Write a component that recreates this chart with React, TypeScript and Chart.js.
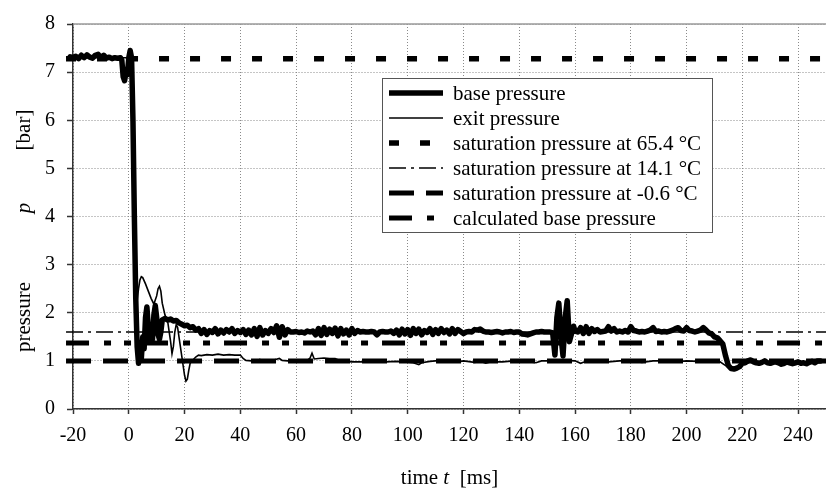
import React, { useEffect, useRef } from "react";
import { Chart, registerables } from "chart.js";
Chart.register(...registerables);

// ---- data ----
const xTickValues = [-20, 0, 20, 40, 60, 80, 100, 120, 140, 160, 180, 200, 220, 240];
const yTickValues = [0, 1, 2, 3, 4, 5, 6, 7, 8];

const basePressure: [number, number][] = [
  [-22.5, 7.30], [-21, 7.32], [-20, 7.30], [-19, 7.33], [-18, 7.28], [-17, 7.35], [-16, 7.30], [-15, 7.36],
  [-14, 7.31], [-13, 7.29], [-12, 7.35], [-11, 7.37], [-10, 7.30], [-9, 7.35], [-8, 7.29], [-7, 7.31],
  [-6, 7.28], [-5, 7.30], [-4, 7.29], [-3, 7.30], [-2.5, 7.25], [-2, 6.9], [-1.5, 6.82], [-1, 7.0],
  [-0.5, 6.95], [0, 7.3], [0.5, 7.45], [1, 7.3], [1.5, 6.0], [2, 4.0], [2.5, 2.3], [3, 1.3], [3.5, 0.95],
  [4, 1.15], [4.5, 1.05], [5, 1.5], [5.5, 1.25], [6, 1.9], [6.5, 2.12], [7, 1.7], [7.5, 1.4], [8, 1.55],
  [8.5, 1.45], [9, 1.95], [9.5, 2.15], [10, 1.9], [10.5, 1.55], [11, 1.45], [11.5, 1.6], [12, 1.85],
  [13, 1.88], [14, 1.85], [15, 1.87], [16, 1.83], [17, 1.84], [18, 1.79], [19, 1.76], [20, 1.73],
  [21, 1.74], [22, 1.69], [23, 1.71], [24, 1.64], [25, 1.67], [26, 1.57], [27, 1.65], [28, 1.55],
  [29, 1.63], [30, 1.59], [31, 1.67], [32, 1.56], [33, 1.64], [34, 1.58], [35, 1.65], [36, 1.60],
  [37, 1.67], [38, 1.57], [39, 1.63], [40, 1.59], [41, 1.65], [42, 1.55], [43, 1.64], [44, 1.54],
  [45, 1.67], [46, 1.51], [47, 1.69], [48, 1.54], [49, 1.63], [50, 1.57], [51, 1.67], [52, 1.59],
  [53, 1.73], [54, 1.49], [55, 1.71], [56, 1.54], [57, 1.65], [58, 1.60], [59, 1.60], [60, 1.61],
  [61, 1.59], [62, 1.60], [63, 1.58], [64, 1.62], [65, 1.60], [66, 1.62], [67, 1.54], [68, 1.67],
  [69, 1.53], [70, 1.69], [71, 1.55], [72, 1.66], [73, 1.57], [74, 1.68], [75, 1.52], [76, 1.67],
  [77, 1.56], [78, 1.64], [79, 1.54], [80, 1.67], [81, 1.57], [82, 1.63], [83, 1.60], [84, 1.61],
  [85, 1.60], [86, 1.60], [87, 1.61], [88, 1.60], [89, 1.54], [90, 1.60], [91, 1.61], [92, 1.60],
  [93, 1.60], [94, 1.62], [95, 1.57], [96, 1.64], [97, 1.54], [98, 1.66], [99, 1.56], [100, 1.65],
  [101, 1.53], [102, 1.67], [103, 1.57], [104, 1.66], [105, 1.54], [106, 1.63], [107, 1.59], [108, 1.67],
  [109, 1.55], [110, 1.65], [111, 1.57], [112, 1.67], [113, 1.59], [114, 1.64], [115, 1.56], [116, 1.67],
  [117, 1.57], [118, 1.65], [119, 1.61], [120, 1.57], [121, 1.60], [122, 1.61], [123, 1.60], [124, 1.65],
  [125, 1.64], [126, 1.66], [127, 1.62], [128, 1.60], [129, 1.60], [130, 1.59], [131, 1.60], [132, 1.61],
  [133, 1.60], [134, 1.58], [135, 1.60], [136, 1.60], [137, 1.61], [138, 1.59], [139, 1.60], [140, 1.60],
  [141, 1.56], [142, 1.55], [143, 1.54], [144, 1.56], [145, 1.58], [146, 1.60], [147, 1.60], [148, 1.61],
  [149, 1.60], [150, 1.60], [151, 1.60], [152, 1.58], [152.8, 1.12], [153.5, 1.9], [154.2, 2.2], [155, 1.5],
  [155.7, 1.1], [156.5, 1.9], [157.2, 2.25], [158, 1.4], [158.7, 1.55], [159.5, 1.72], [160, 1.62],
  [161, 1.60], [162, 1.69], [163, 1.57], [164, 1.71], [165, 1.57], [166, 1.67], [167, 1.61], [168, 1.65],
  [169, 1.60], [170, 1.61], [171, 1.62], [172, 1.71], [173, 1.62], [174, 1.67], [175, 1.60], [176, 1.62],
  [177, 1.60], [178, 1.63], [179, 1.60], [180, 1.71], [181, 1.63], [182, 1.62], [183, 1.60], [184, 1.61],
  [185, 1.60], [186, 1.62], [187, 1.64], [188, 1.69], [189, 1.61], [190, 1.62], [191, 1.60], [192, 1.61],
  [193, 1.60], [194, 1.62], [195, 1.64], [196, 1.67], [197, 1.69], [198, 1.63], [199, 1.62], [200, 1.69],
  [201, 1.63], [202, 1.62], [203, 1.60], [204, 1.62], [205, 1.64], [206, 1.69], [207, 1.64], [208, 1.58],
  [209, 1.56], [210, 1.50], [211, 1.48], [212, 1.42], [213, 1.35], [214, 1.10], [215, 0.90], [216, 0.84],
  [217, 0.83], [218, 0.85], [219, 0.88], [220, 0.95], [221, 0.96], [222, 1.00], [223, 1.02], [224, 0.98],
  [225, 0.96], [226, 0.95], [227, 0.97], [228, 1.00], [229, 0.96], [230, 0.95], [231, 0.97], [232, 0.98],
  [233, 0.96], [234, 0.93], [235, 0.95], [236, 0.98], [237, 0.96], [238, 0.94], [239, 0.96], [240, 0.98],
  [241, 0.95], [242, 0.96], [243, 0.94], [244, 0.97], [245, 0.99], [246, 0.96], [247, 1.00], [248, 1.00],
];

const exitPressure: [number, number][] = [
  [-22.5, 7.30], [-10, 7.30], [0, 7.30], [1, 7.25], [1.5, 5.5], [2, 3.5], [2.5, 2.5], [3, 2.25],
  [3.5, 2.5], [4, 2.68], [4.5, 2.75], [5, 2.73], [6, 2.6], [7, 2.45], [8, 2.3], [9, 2.18], [10, 2.35],
  [10.5, 2.5], [11, 2.55], [11.5, 2.45], [12, 2.2], [13, 1.95], [14, 1.8], [15, 1.4], [15.5, 1.15],
  [16, 1.3], [16.5, 1.6], [17, 1.75], [17.5, 1.7], [18, 1.5], [19, 1.1], [20, 0.7], [20.5, 0.58],
  [21, 0.62], [21.5, 0.8], [22, 0.95], [23, 1.02], [24, 1.08], [25, 1.12], [26, 1.11], [28, 1.13],
  [30, 1.12], [32, 1.14], [34, 1.12], [36, 1.13], [38, 1.12], [40, 1.12], [41, 1.05], [42, 1.01],
  [44, 1.00], [46, 1.01], [47, 1.03], [48, 1.00], [50, 1.01], [52, 1.02], [54, 1.05], [55, 1.01],
  [57, 1.00], [60, 1.00], [62, 1.00], [64, 1.01], [65, 1.06], [65.7, 1.16], [66.5, 1.04], [68, 1.05],
  [70, 1.06], [72, 1.05], [74, 1.05], [76, 1.00], [80, 0.98], [84, 0.98], [88, 0.97], [92, 0.98],
  [96, 0.99], [100, 0.97], [102, 0.96], [104, 0.92], [105, 0.96], [108, 0.99], [110, 1.00], [114, 1.01],
  [118, 0.98], [120, 1.00], [124, 0.97], [126, 0.99], [128, 0.95], [130, 0.98], [134, 0.98], [138, 1.00],
  [140, 1.00], [144, 0.98], [146, 0.96], [148, 1.00], [152, 1.00], [156, 1.01], [160, 1.00], [162, 0.95],
  [164, 0.99], [168, 1.00], [172, 0.98], [176, 1.00], [180, 1.00], [184, 0.97], [188, 1.00], [192, 1.00],
  [196, 0.98], [200, 1.00], [204, 0.99], [208, 1.00], [211, 1.00], [212, 0.98], [214, 0.90], [216, 0.84],
  [218, 0.85], [220, 0.95], [222, 0.99], [226, 0.96], [230, 0.95], [234, 0.94], [238, 0.96], [242, 0.95],
  [246, 0.96], [248, 1.00],
];

const refSpan = [-22.5, 250];
const sat654 = 7.28;
const sat141 = 1.6;
const satMinus06 = 1.0;
const calcBase = 1.37;

const seriesLabels = [
  "base pressure",
  "exit pressure",
  "saturation pressure at 65.4 °C",
  "saturation pressure at 14.1 °C",
  "saturation pressure at -0.6 °C",
  "calculated base pressure",
];

const FONT = '"Liberation Serif", "Times New Roman", serif';

const overlayPlugin = {
  id: "overlay",
  beforeDatasetsDraw(chart: any) {
    const { ctx, chartArea } = chart;
    ctx.save();
    ctx.strokeStyle = "#9a9a9a";
    ctx.lineWidth = 1.5;
    ctx.beginPath();
    ctx.moveTo(chartArea.left, chartArea.top);
    ctx.lineTo(chartArea.right, chartArea.top);
    ctx.stroke();
    ctx.restore();
  },
  afterDraw(chart: any) {
    const { ctx, chartArea } = chart;
    ctx.save();
    // legend
    const bx = 382, by = 78, bw = 330, bh = 154;
    ctx.fillStyle = "#fff";
    ctx.fillRect(bx, by, bw, bh);
    ctx.strokeStyle = "#555";
    ctx.lineWidth = 1;
    ctx.strokeRect(bx + 0.5, by + 0.5, bw, bh);
    chart.data.datasets.forEach((ds: any, i: number) => {
      const y = by + 15 + i * 25;
      ctx.save();
      ctx.strokeStyle = "#000";
      ctx.lineWidth = ds.borderWidth;
      ctx.setLineDash(ds.borderDash || []);
      ctx.beginPath();
      ctx.moveTo(bx + 7, y);
      ctx.lineTo(bx + 61, y);
      ctx.stroke();
      ctx.restore();
      ctx.fillStyle = "#000";
      ctx.font = `21px ${FONT}`;
      ctx.textBaseline = "middle";
      ctx.textAlign = "left";
      ctx.fillText(ds.label, bx + 71, y + 1);
    });
    // x title
    ctx.fillStyle = "#000";
    ctx.textBaseline = "middle";
    ctx.textAlign = "left";
    const normal = `21px ${FONT}`;
    const italic = `italic 21px ${FONT}`;
    ctx.font = normal;
    const w1 = ctx.measureText("time ").width;
    const w3 = ctx.measureText("  [ms]").width;
    ctx.font = italic;
    const w2 = ctx.measureText("t").width;
    const cx = (chartArea.left + chartArea.right) / 2;
    let x0 = cx - (w1 + w2 + w3) / 2;
    const ty = 478;
    ctx.font = normal;
    ctx.fillText("time ", x0, ty);
    ctx.font = italic;
    ctx.fillText("t", x0 + w1, ty);
    ctx.font = normal;
    ctx.fillText("  [ms]", x0 + w1 + w2, ty);
    // y title
    ctx.save();
    ctx.translate(24, 0);
    ctx.rotate(-Math.PI / 2);
    ctx.textAlign = "center";
    ctx.font = normal;
    ctx.fillText("pressure", -317, 0);
    ctx.font = italic;
    ctx.fillText("p", -208, 0);
    ctx.font = normal;
    ctx.fillText("[bar]", -130, 0);
    ctx.restore();
    ctx.restore();
  },
};

export default function App() {
  const ref = useRef<HTMLCanvasElement>(null);
  useEffect(() => {
    if (!ref.current) return;
    const hline = (v: number) => refSpan.map((t) => ({ x: t, y: v }));
    const common = { pointRadius: 0, fill: false, tension: 0, clip: false as any, borderColor: "#000", backgroundColor: "#000" };
    const chart = new Chart(ref.current, {
      type: "line",
      data: {
        datasets: [
          { ...common, label: seriesLabels[0], data: basePressure.map(([x, y]) => ({ x, y })), borderWidth: 5.5, borderJoinStyle: "round", borderCapStyle: "round" },
          { ...common, label: seriesLabels[1], data: exitPressure.map(([x, y]) => ({ x, y })), borderWidth: 1.6 },
          { ...common, label: seriesLabels[2], data: hline(sat654), borderWidth: 5.5, borderDash: [10, 21] },
          { ...common, label: seriesLabels[3], data: hline(sat141), borderWidth: 1.6, borderDash: [17, 5, 3, 5] },
          { ...common, label: seriesLabels[4], data: hline(satMinus06), borderWidth: 5, borderDash: [25, 12] },
          { ...common, label: seriesLabels[5], data: hline(calcBase), borderWidth: 5, borderDash: [23, 15, 7, 13, 7, 14] },
        ] as any,
      },
      options: {
        animation: false,
        responsive: true,
        maintainAspectRatio: false,
        layout: { padding: { top: 15, left: 0, right: 0, bottom: 0 } },
        plugins: { legend: { display: false }, tooltip: { enabled: false } },
        scales: {
          x: {
            type: "linear",
            min: -20,
            max: 250,
            afterBuildTicks: (s: any) => { s.ticks = xTickValues.map((v) => ({ value: v })); },
            afterFit: (s: any) => { s.height = 83; },
            ticks: { font: { family: FONT, size: 20 }, color: "#000", padding: 10, maxRotation: 0, autoSkip: false },
            grid: { color: "#8a8a8a", lineWidth: 1, tickLength: 5, tickColor: "#333", tickWidth: 1.5, tickBorderDash: [] },
            border: { display: true, color: "#333", width: 1.5, dash: [1, 2] },
          },
          y: {
            type: "linear",
            min: 0,
            max: 8,
            afterBuildTicks: (s: any) => { s.ticks = yTickValues.map((v) => ({ value: v })); },
            afterFit: (s: any) => { s.width = 73; },
            ticks: { font: { family: FONT, size: 20 }, color: "#000", padding: 12, autoSkip: false },
            grid: { color: "#8a8a8a", lineWidth: 1, tickLength: 6, tickColor: "#333", tickWidth: 1.5, tickBorderDash: [] },
            border: { display: true, color: "#333", width: 1.5, dash: [1, 2] },
          },
        },
      },
      plugins: [overlayPlugin],
    });
    return () => chart.destroy();
  }, []);
  return (
    <div style={{ position: "fixed", left: 0, top: 0, width: 826, height: 492, background: "#fff" }}>
      <canvas ref={ref} />
    </div>
  );
}
